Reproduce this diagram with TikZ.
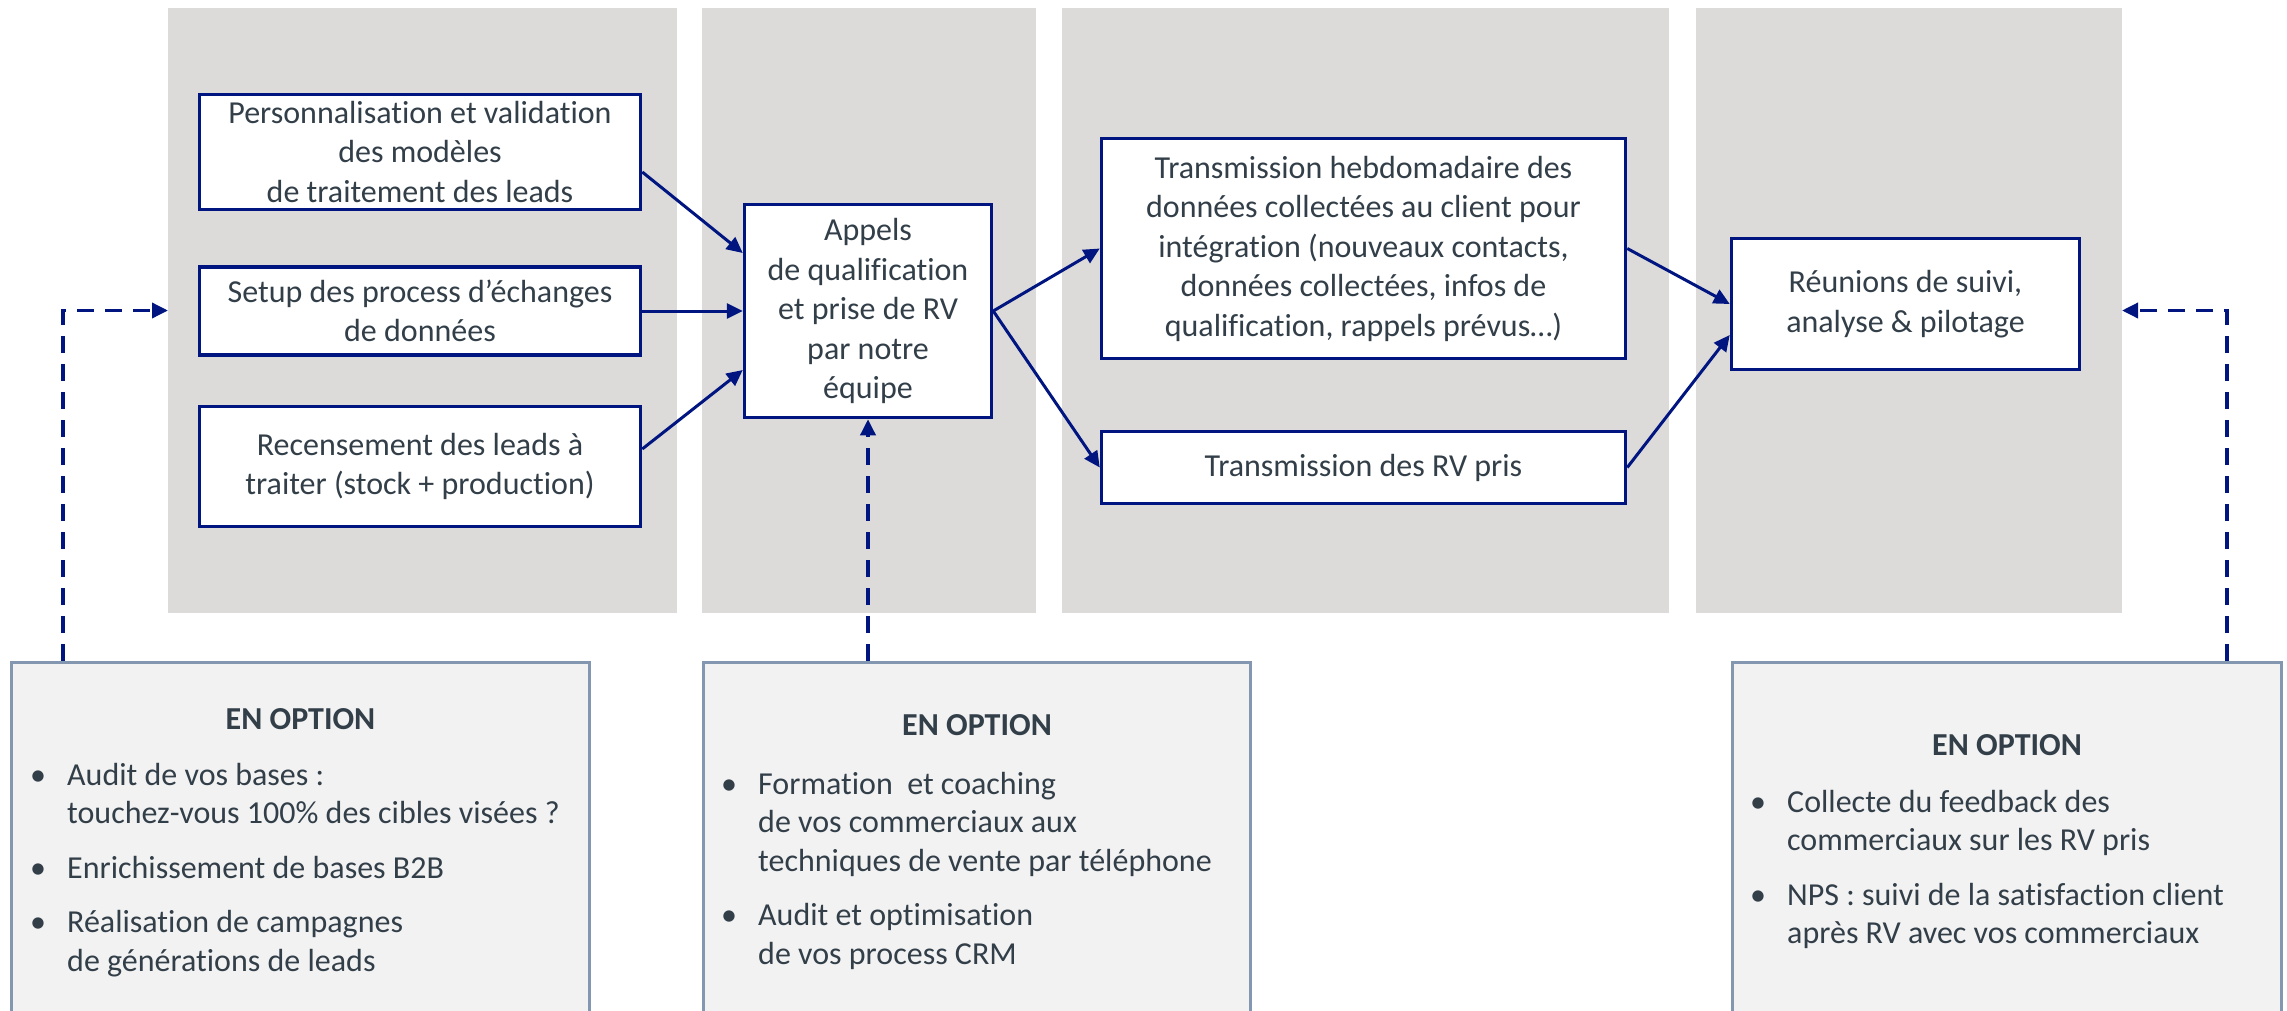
\documentclass[tikz,border=0pt]{standalone}
\usepackage{fontspec}
\setmainfont{Carlito}[Ligatures=NoCommon]
\usetikzlibrary{arrows.meta,positioning,calc}
\definecolor{navy}{RGB}{0,21,128}
\definecolor{ink}{RGB}{50,62,72}
\definecolor{panelgray}{RGB}{220,219,218}
\definecolor{optfill}{RGB}{242,242,242}
\definecolor{optedge}{RGB}{132,151,176}

\begin{document}
\begin{tikzpicture}[x=1pt,y=-1pt,>={Triangle[length=16pt,width=15pt]},
 panel/.style={fill=panelgray,inner sep=0pt,outer sep=0pt},
 box/.style={draw=navy,line width=3.5pt,fill=white,align=center,text=ink,inner sep=0pt,font=\fontsize{32}{39.5}\selectfont},
 option/.style={draw=optedge,line width=3pt,fill=optfill,inner sep=0pt},
 opttitle/.style={text=ink,inner sep=0pt,font=\fontsize{32}{38}\selectfont\bfseries},
 optlist/.style={text=ink,inner sep=0pt,anchor=north west,font=\fontsize{32}{38.5}\selectfont},
 flow/.style={->,draw=navy,line width=3pt},
 extra/.style={->,draw=navy,line width=3.5pt,dash pattern=on 17pt off 11pt}]
\clip (0,0) rectangle (2287,1010);
\node[panel,minimum width=509,minimum height=605] (col1) at (422.5,310.5) {};
\node[panel,minimum width=334,minimum height=605] (col2) at (869,310.5) {};
\node[panel,minimum width=607,minimum height=605] (col3) at (1365.5,310.5) {};
\node[panel,minimum width=426,minimum height=605] (col4) at (1909,310.5) {};
\node[box,minimum width=441,minimum height=115] (perso) at (420,152) {Personnalisation et validation\\des modèles\\de traitement des leads};
\node[box,minimum width=441,minimum height=88] (setup) at (420,311) {Setup des process d’échanges\\de données};
\node[box,minimum width=441,minimum height=120] (recense) at (420,466.5) {Recensement des leads à\\traiter (stock + production)};
\node[box,minimum width=247,minimum height=213] (appels) at (868,311) {Appels\\de qualification\\et prise de RV\\par notre\\équipe};
\node[box,minimum width=524,minimum height=220] (hebdo) at (1363.5,248.5) {Transmission hebdomadaire des\\données collectées au client pour\\intégration (nouveaux contacts,\\données collectées, infos de\\qualification, rappels prévus…)};
\node[box,minimum width=524,minimum height=72] (rvpris) at (1363.5,467.5) {Transmission des RV pris};
\node[box,minimum width=348,minimum height=131] (reunion) at (1905.5,304) {Réunions de suivi,\\analyse \& pilotage};
\draw[flow] ([yshift=-20pt]perso.east)--([yshift=58pt]appels.west);
\draw[flow] (setup.east)--(appels.west);
\draw[flow] ([yshift=17.5pt]recense.east)--([yshift=-59pt]appels.west);
\draw[flow] (appels.east)--(hebdo.west);
\draw[flow] (appels.east)--(rvpris.west);
\draw[flow] (hebdo.east)--(reunion.west);
\draw[flow] (rvpris.east)--([yshift=-31pt]reunion.west);
\node[option,minimum width=578,minimum height=370] (opt1) at (300.5,847) {};
\node[option,minimum width=547,minimum height=370] (opt2) at (977,847) {};
\node[option,minimum width=549,minimum height=370] (opt3) at (2007,847) {};
\node[opttitle] (titre1) at (300.5,719) {EN OPTION};
\node[opttitle] (titre2) at (977,725) {EN OPTION};
\node[opttitle] (titre3) at (2007,745) {EN OPTION};
\node[optlist] (liste1) at (30,758) {\begin{tabular}{@{}p{37pt}@{}l@{}}
 \textbullet&Audit de vos bases :\\&touchez-vous 100\% des cibles visées~?\\[16pt]
 \textbullet&Enrichissement de bases B2B\\[16pt]
 \textbullet&Réalisation de campagnes\\&de générations de leads\end{tabular}};
\node[optlist] (liste2) at (721,767) {\begin{tabular}{@{}p{37pt}@{}l@{}}
 \textbullet&Formation\ \ et coaching\\&de vos commerciaux aux\\&techniques de vente par téléphone\\[16pt]
 \textbullet&Audit et optimisation\\&de vos process CRM\end{tabular}};
\node[optlist] (liste3) at (1750,785) {\begin{tabular}{@{}p{37pt}@{}l@{}}
 \textbullet&Collecte du feedback des\\&commerciaux sur les RV pris\\[16pt]
 \textbullet&NPS : suivi de la satisfaction client\\&après RV avec vos commerciaux\end{tabular}};
\draw[extra] ([xshift=53pt]opt1.north west)|-(col1.west);
\draw[extra] (opt2.north -| appels.south)--(appels.south);
\draw[extra] ([xshift=-56pt]opt3.north east)|-(col4.east);
\end{tikzpicture}
\end{document}
